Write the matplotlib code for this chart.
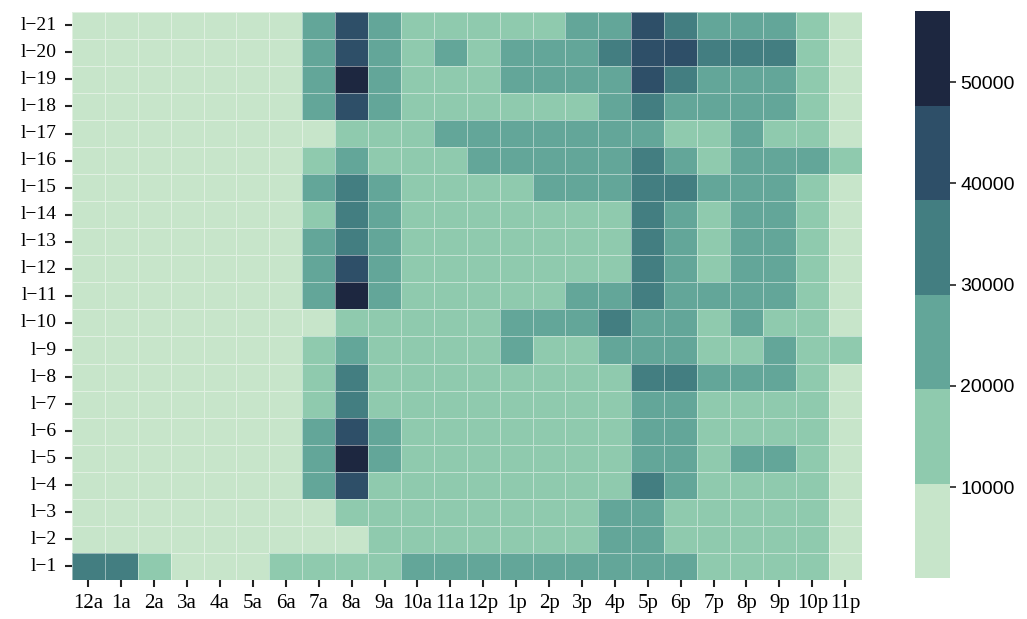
import matplotlib
matplotlib.use("Agg")
import matplotlib.pyplot as plt
from matplotlib.colors import ListedColormap
import numpy as np
import pandas as pd
import seaborn as sns

hours = ['12a', '1a', '2a', '3a', '4a', '5a', '6a', '7a', '8a', '9a', '10a', '11a',
         '12p', '1p', '2p', '3p', '4p', '5p', '6p', '7p', '8p', '9p', '10p', '11p']
days = ['l\u221221', 'l\u221220', 'l\u221219', 'l\u221218', 'l\u221217', 'l\u221216', 'l\u221215',
        'l\u221214', 'l\u221213', 'l\u221212', 'l\u221211', 'l\u221210', 'l\u22129', 'l\u22128',
        'l\u22127', 'l\u22126', 'l\u22125', 'l\u22124', 'l\u22123', 'l\u22122', 'l\u22121']

# hourly counts, one row per day (top row = l-21)
counts = [
    [5000, 5000, 5000, 5000, 5000, 5000, 5000, 24000, 43000, 24000, 15000, 15000, 15000, 15000, 15000, 24000, 24000, 43000, 33500, 24000, 24000, 24000, 15000, 5000],
    [5000, 5000, 5000, 5000, 5000, 5000, 5000, 24000, 43000, 24000, 15000, 24000, 15000, 24000, 24000, 24000, 33500, 43000, 43000, 33500, 33500, 33500, 15000, 5000],
    [5000, 5000, 5000, 5000, 5000, 5000, 5000, 24000, 54000, 24000, 15000, 15000, 15000, 24000, 24000, 24000, 24000, 43000, 33500, 24000, 24000, 24000, 15000, 5000],
    [5000, 5000, 5000, 5000, 5000, 5000, 5000, 24000, 43000, 24000, 15000, 15000, 15000, 15000, 15000, 15000, 24000, 33500, 24000, 24000, 24000, 24000, 15000, 5000],
    [5000, 5000, 5000, 5000, 5000, 5000, 5000, 5000, 15000, 15000, 15000, 24000, 24000, 24000, 24000, 24000, 24000, 24000, 15000, 15000, 24000, 15000, 15000, 5000],
    [5000, 5000, 5000, 5000, 5000, 5000, 5000, 15000, 24000, 15000, 15000, 15000, 24000, 24000, 24000, 24000, 24000, 33500, 24000, 15000, 24000, 24000, 24000, 15000],
    [5000, 5000, 5000, 5000, 5000, 5000, 5000, 24000, 33500, 24000, 15000, 15000, 15000, 15000, 24000, 24000, 24000, 33500, 33500, 24000, 24000, 24000, 15000, 5000],
    [5000, 5000, 5000, 5000, 5000, 5000, 5000, 15000, 33500, 24000, 15000, 15000, 15000, 15000, 15000, 15000, 15000, 33500, 24000, 15000, 24000, 24000, 15000, 5000],
    [5000, 5000, 5000, 5000, 5000, 5000, 5000, 24000, 33500, 24000, 15000, 15000, 15000, 15000, 15000, 15000, 15000, 33500, 24000, 15000, 24000, 24000, 15000, 5000],
    [5000, 5000, 5000, 5000, 5000, 5000, 5000, 24000, 43000, 24000, 15000, 15000, 15000, 15000, 15000, 15000, 15000, 33500, 24000, 15000, 24000, 24000, 15000, 5000],
    [5000, 5000, 5000, 5000, 5000, 5000, 5000, 24000, 54000, 24000, 15000, 15000, 15000, 15000, 15000, 24000, 24000, 33500, 24000, 24000, 24000, 24000, 15000, 5000],
    [5000, 5000, 5000, 5000, 5000, 5000, 5000, 5000, 15000, 15000, 15000, 15000, 15000, 24000, 24000, 24000, 33500, 24000, 24000, 15000, 24000, 15000, 15000, 5000],
    [5000, 5000, 5000, 5000, 5000, 5000, 5000, 15000, 24000, 15000, 15000, 15000, 15000, 24000, 15000, 15000, 24000, 24000, 24000, 15000, 15000, 24000, 15000, 15000],
    [5000, 5000, 5000, 5000, 5000, 5000, 5000, 15000, 33500, 15000, 15000, 15000, 15000, 15000, 15000, 15000, 15000, 33500, 33500, 24000, 24000, 24000, 15000, 5000],
    [5000, 5000, 5000, 5000, 5000, 5000, 5000, 15000, 33500, 15000, 15000, 15000, 15000, 15000, 15000, 15000, 15000, 24000, 24000, 15000, 15000, 15000, 15000, 5000],
    [5000, 5000, 5000, 5000, 5000, 5000, 5000, 24000, 43000, 24000, 15000, 15000, 15000, 15000, 15000, 15000, 15000, 24000, 24000, 15000, 15000, 15000, 15000, 5000],
    [5000, 5000, 5000, 5000, 5000, 5000, 5000, 24000, 54000, 24000, 15000, 15000, 15000, 15000, 15000, 15000, 15000, 24000, 24000, 15000, 24000, 24000, 15000, 5000],
    [5000, 5000, 5000, 5000, 5000, 5000, 5000, 24000, 43000, 15000, 15000, 15000, 15000, 15000, 15000, 15000, 15000, 33500, 24000, 15000, 15000, 15000, 15000, 5000],
    [5000, 5000, 5000, 5000, 5000, 5000, 5000, 5000, 15000, 15000, 15000, 15000, 15000, 15000, 15000, 15000, 24000, 24000, 15000, 15000, 15000, 15000, 15000, 5000],
    [5000, 5000, 5000, 5000, 5000, 5000, 5000, 5000, 5000, 15000, 15000, 15000, 15000, 15000, 15000, 15000, 24000, 24000, 15000, 15000, 15000, 15000, 15000, 5000],
    [33500, 33500, 15000, 5000, 5000, 5000, 15000, 15000, 15000, 15000, 24000, 24000, 24000, 24000, 24000, 24000, 24000, 24000, 24000, 15000, 15000, 15000, 15000, 5000],
]

palette = ['#c7e5ca', '#8fcaae', '#63a699', '#437e81', '#2e4f68', '#1d2740']
cmap = ListedColormap(palette)

df = pd.DataFrame(counts, index=days, columns=hours)

fig = plt.figure(figsize=(10.27, 6.19), dpi=100)
ax = fig.add_axes([0.070, 0.063, 0.769, 0.918])
cax = fig.add_axes([0.891, 0.066, 0.034, 0.916])

sns.heatmap(df, ax=ax, cbar_ax=cax, cmap=cmap, vmin=1000, vmax=57000,
            linewidths=0.5, linecolor=(1, 1, 1, 0.45))

ax.tick_params(axis='both', length=5, width=1.5, color='#222222')
ax.tick_params(axis='y', pad=6)
ax.tick_params(axis='x', pad=5)
ax.set_xticklabels(hours, rotation=0, fontsize=15, family='Liberation Serif')
ax.set_yticklabels(days, rotation=0, fontsize=14, family='Liberation Serif')
ax.set_xlabel('')
ax.set_ylabel('')

cax.set_yticks([10000, 20000, 30000, 40000, 50000])
cax.tick_params(length=4, width=1.2, labelsize=14, color='#222222')
for t in cax.get_yticklabels():
    t.set_family('Liberation Sans')

fig.savefig('out.png', dpi=100)
